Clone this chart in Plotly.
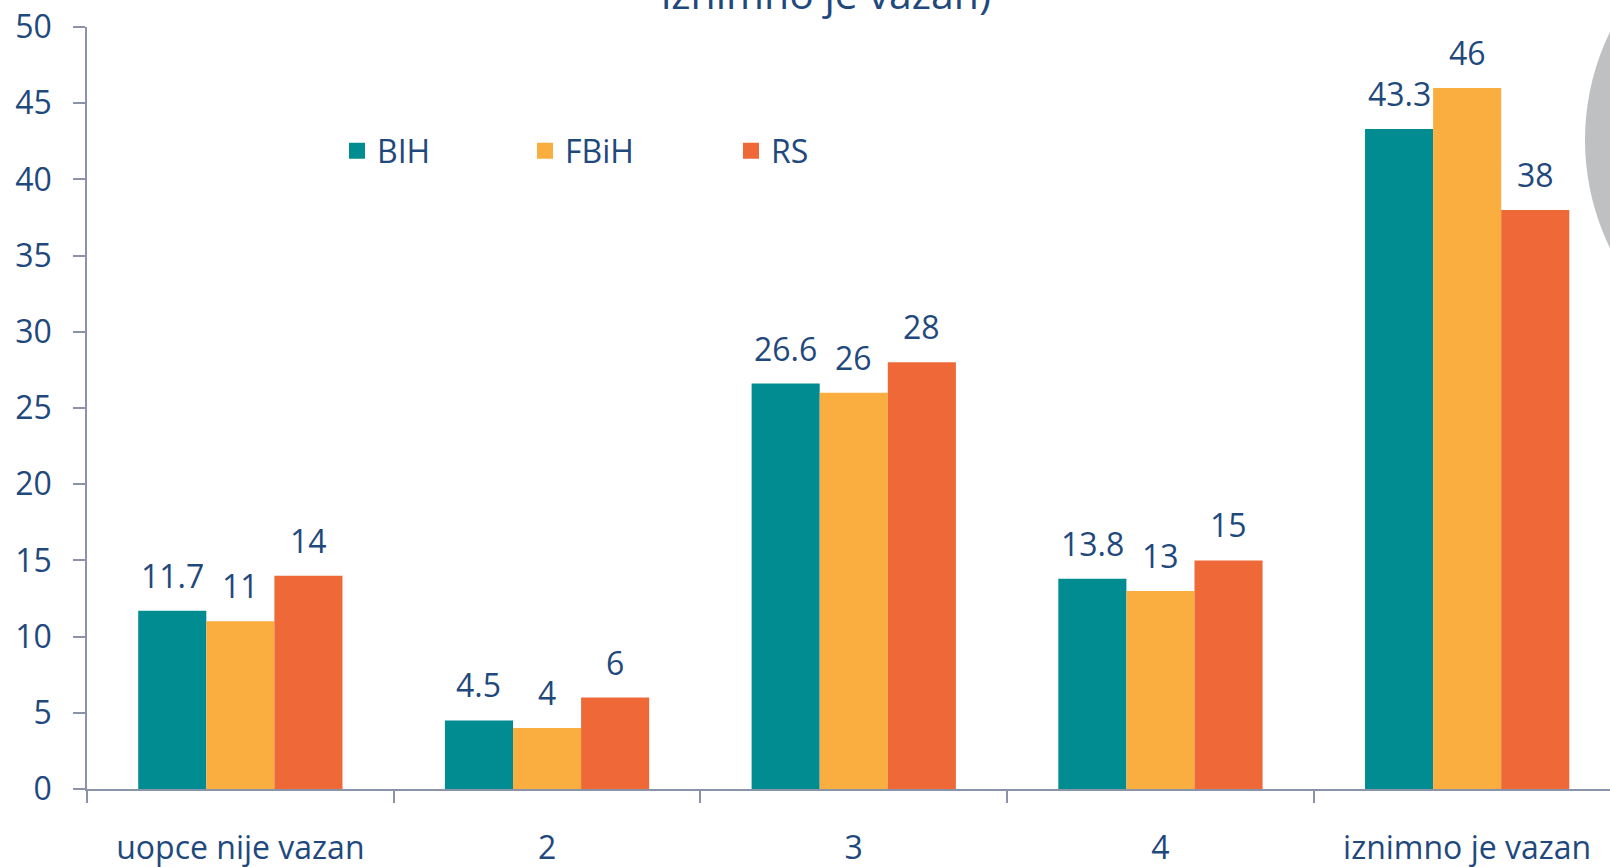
import plotly.graph_objects as go

categories = ["uopce nije vazan", "2", "3", "4", "iznimno je vazan"]
series_names = ["BIH", "FBiH", "RS"]
bih = [11.7, 4.5, 26.6, 13.8, 43.3]
fbih = [11, 4, 26, 13, 46]
rs = [14, 6, 28, 15, 38]
y_ticks = [0, 5, 10, 15, 20, 25, 30, 35, 40, 45, 50]
title_visible = "iznimno je vazan)"

colors = ["#008C91", "#FBAE40", "#EE6838"]
text_color = "#1F497D"
axis_color = "#8A93A8"
FONT = "Open Sans"

W, H = 1610, 867
L, T, plot_h = 87, 27, 762
B = H - T - plot_h
plot_w = W - L
cat_px = 306.7
x_end = -0.5 + plot_w / cat_px
bargap = 0.334
bw = (1 - bargap) / 3
zero_px = T + plot_h


def px_x(p):
    return (p - L) / plot_w


def px_y(p):
    return (zero_px - p) / plot_h


series_vals = [bih, fbih, rs]

fig = go.Figure()
for j, (name, vals) in enumerate(zip(series_names, series_vals)):
    fig.add_trace(go.Bar(
        x=list(range(len(categories))), y=vals, name=name,
        marker=dict(color=colors[j], line=dict(width=0)),
        showlegend=False,
    ))

legend_ids = ["legend", "legend2", "legend3"]
for j, name in enumerate(series_names):
    fig.add_trace(go.Scatter(
        x=[None], y=[None], mode="markers", name=name,
        marker=dict(symbol="square", size=16, color=colors[j]),
        legend=legend_ids[j], showlegend=True,
    ))

annotations = []
for j, vals in enumerate(series_vals):
    for i, v in enumerate(vals):
        annotations.append(dict(
            x=i + (j - 1) * bw, y=v, xref="x", yref="y",
            text=f"{v:g}", showarrow=False, yanchor="bottom", yshift=12,
            font=dict(family=FONT, size=32, color=text_color),
        ))
annotations.append(dict(
    x=px_x(826), y=px_y(23), xref="paper", yref="paper",
    text=title_visible, showarrow=False, xanchor="center", yanchor="bottom",
    font=dict(family=FONT, size=41, color=text_color),
))

leg_centers = [357, 545, 751]
legends = {}
for j, lid in enumerate(legend_ids):
    legends[lid] = dict(
        x=px_x(leg_centers[j] - 20), y=px_y(151),
        xanchor="left", yanchor="middle", orientation="h",
        bgcolor="rgba(0,0,0,0)", borderwidth=0,
        font=dict(family=FONT, size=32, color=text_color),
        itemclick=False, itemdoubleclick=False,
    )

fig.update_layout(
    width=W, height=H,
    margin=dict(l=L, r=0, t=T, b=B, pad=0, autoexpand=False),
    paper_bgcolor="white", plot_bgcolor="white",
    barmode="group", bargap=bargap, bargroupgap=0,
    annotations=annotations,
    shapes=[dict(
        type="circle", xref="paper", yref="paper",
        x0=px_x(1585), x1=px_x(2077),
        y0=px_y(386), y1=px_y(-106),
        fillcolor="#BFC0C2", line=dict(width=0), layer="below",
    )],
    **legends,
)

fig.update_xaxes(
    type="linear", range=[-0.5, x_end], automargin=False,
    tickmode="array", tickvals=list(range(len(categories))), ticktext=categories,
    ticks="", showgrid=False, zeroline=False,
    showline=True, linecolor=axis_color, linewidth=2,
    tickfont=dict(family=FONT, size=32, color=text_color),
    ticklabelstandoff=30, ticklabeloverflow="allow",
)
fig.update_xaxes(minor=dict(tickmode="array", tickvals=[k - 0.5 for k in range(len(categories) + 1)],
                            ticks="outside", ticklen=12, tickcolor=axis_color, tickwidth=1.5, showgrid=False))
fig.update_yaxes(
    range=[0, 50], tickmode="array", tickvals=y_ticks, automargin=False,
    ticks="outside", ticklen=12, tickcolor=axis_color, tickwidth=1.5,
    showgrid=False, zeroline=False,
    showline=True, linecolor=axis_color, linewidth=1.5,
    tickfont=dict(family=FONT, size=32, color=text_color),
    ticklabelstandoff=15, ticklabeloverflow="allow",
)

fig.write_html(
    "out.html",
    config={"displayModeBar": False},
    post_script="document.body.style.margin='0';document.body.style.overflow='hidden';",
)
